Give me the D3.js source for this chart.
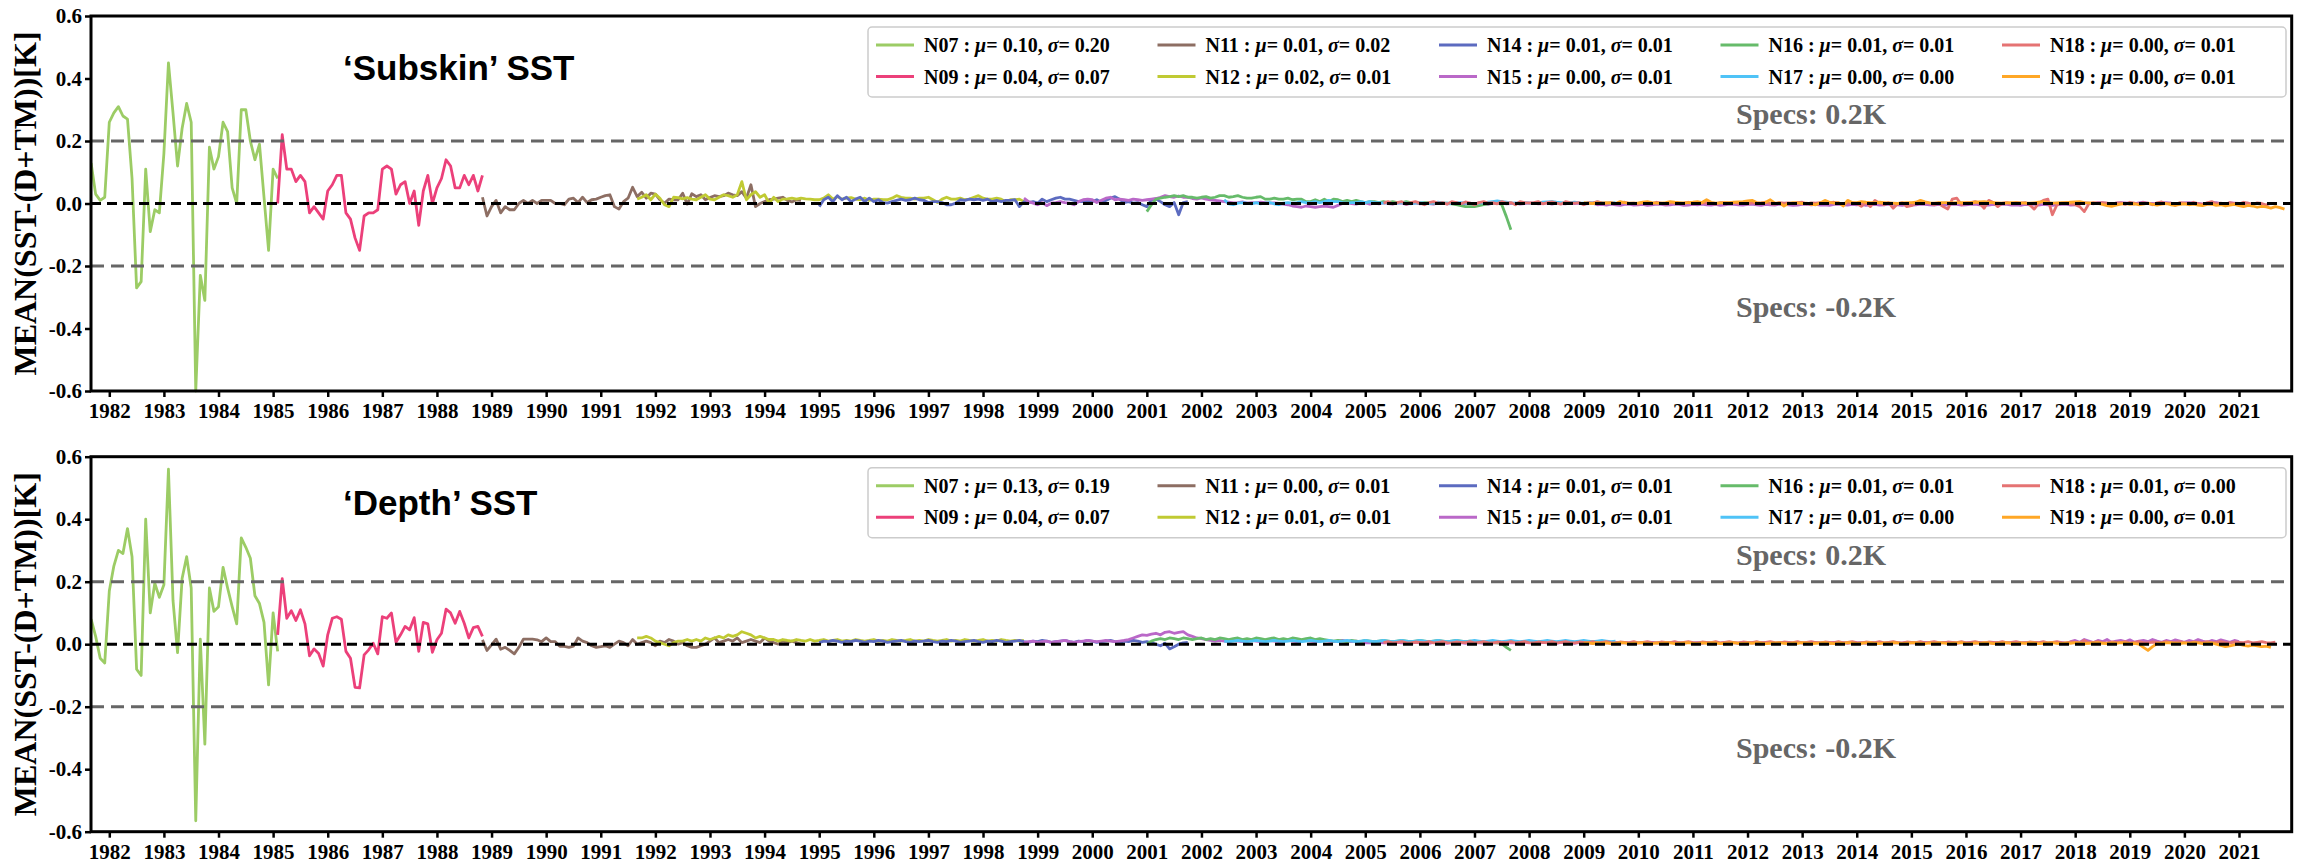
<!DOCTYPE html>
<html>
<head>
<meta charset="utf-8">
<script src="https://cdn.jsdelivr.net/npm/d3@7"></script>
<style>
  body { margin: 0; background: #fff; }
  svg { display: block; }
</style>
</head>
<body>
<div id="chart"></div>
<script>
// ---- data ----
const satNames = ["N07", "N09", "N11", "N12", "N14", "N15", "N16", "N17", "N18", "N19"];
const satColors = ["#9ccc65", "#ec407a", "#8d6e63", "#c0ca33", "#5c6bc0", "#ba68c8", "#66bb6a", "#4fc3f7", "#e57373", "#ffa726"];
const yearTicks = d3.range(1982, 2022);
const valueTicks = [-0.6, -0.4, -0.2, 0, 0.2, 0.4, 0.6];
const specLevels = [0.2, -0.2];

// first month of every record [year, month], same for both panels
const satStart = [[1981, 9], [1985, 2], [1988, 11], [1991, 9], [1995, 1], [1998, 10], [2001, 1], [2002, 6], [2005, 5], [2009, 1]];

const subskinMu = [0.10, 0.04, 0.01, 0.02, 0.01, 0.00, 0.01, 0.00, 0.00, 0.00];
const subskinSigma = [0.20, 0.07, 0.02, 0.01, 0.01, 0.01, 0.01, 0.00, 0.01, 0.01];
const depthMu = [0.13, 0.04, 0.00, 0.01, 0.01, 0.01, 0.01, 0.01, 0.01, 0.00];
const depthSigma = [0.19, 0.07, 0.01, 0.01, 0.01, 0.01, 0.01, 0.00, 0.00, 0.01];

// monthly mean SST-(D+TM) [K], 'Subskin' panel
const subskinN07 = [0.13, 0.03, 0.01, 0.02, 0.26, 0.29, 0.31, 0.28, 0.27, 0.08, -0.27, -0.25, 0.11, -0.09, -0.02, -0.03, 0.16, 0.45, 0.29, 0.12, 0.24, 0.32, 0.26, -0.60, -0.23, -0.31, 0.18, 0.11, 0.15, 0.26, 0.23, 0.05, 0.00, 0.30, 0.30, 0.20, 0.14, 0.19, 0.02, -0.15, 0.11, 0.08];
const subskinN09 = [0.00, 0.22, 0.11, 0.11, 0.07, 0.09, 0.07, -0.03, -0.01, -0.03, -0.05, 0.04, 0.06, 0.09, 0.09, -0.03, -0.05, -0.11, -0.15, -0.04, -0.03, -0.03, -0.02, 0.11, 0.12, 0.11, 0.03, 0.06, 0.07, 0.00, 0.04, -0.07, 0.04, 0.09, 0.00, 0.05, 0.08, 0.14, 0.12, 0.05, 0.05, 0.09, 0.06, 0.09, 0.04, 0.09];
const subskinN11 = [0.02, -0.04, -0.01, 0.01, -0.03, -0.01, -0.02, -0.02, 0.00, 0.01, 0.00, 0.01, 0.00, 0.01, 0.01, 0.01, 0.00, 0.00, -0.004, 0.014, 0.017, 0.003, 0.02, 0.003, 0.012, 0.014, 0.02, 0.025, 0.028, -0.01, -0.018, 0.006, 0.017, 0.052, 0.022, 0.036, 0.017, 0.033, 0.03, 0.012, 0.001, 0.014, 0.012, 0.012, 0.033, -0.002, 0.031, 0.022, 0.028, 0.012, 0.019, 0.025, 0.022, 0.025, 0.033, 0.028, 0.025, 0.038, 0.017, 0.06, -0.01, 0.0, 0.006, 0.012, 0.014, 0.017, 0.02, 0.01, 0.005, 0.012, 0.01];
const subskinN12 = [0.014, 0.02, 0.028, 0.012, 0.03, 0.017, -0.004, -0.01, 0.02, 0.019, 0.015, 0.019, 0.014, 0.012, 0.02, 0.028, 0.014, 0.012, 0.02, 0.028, 0.025, 0.02, 0.028, 0.07, 0.012, 0.028, 0.038, 0.02, 0.028, 0.001, 0.02, 0.006, 0.014, 0.015, 0.017, 0.014, 0.017, 0.015, 0.014, 0.012, 0.012, 0.017, 0.028, 0.014, 0.022, 0.014, 0.017, 0.019, 0.014, 0.012, 0.017, 0.01, 0.014, 0.014, 0.012, 0.012, 0.017, 0.025, 0.02, 0.017, 0.017, 0.014, 0.017, 0.017, 0.02, 0.012, 0.003, 0.014, 0.02, 0.014, 0.014, 0.017, 0.012, 0.014, 0.02, 0.025, 0.017, 0.014, 0.014, 0.017, 0.014, 0.006, 0.012, 0.012, 0.014, 0.006];
const subskinN14 = [-0.01, 0.012, 0.02, 0.006, 0.025, 0.012, 0.02, 0.006, 0.014, 0.02, 0.006, 0.017, 0.006, 0.012, 0.003, 0.001, 0.006, 0.01, 0.014, 0.01, 0.012, 0.017, 0.012, 0.01, 0.003, 0.006, 0.006, 0.003, -0.004, -0.004, 0.001, 0.012, 0.01, 0.014, 0.012, 0.014, 0.01, 0.014, 0.006, 0.01, 0.006, 0.01, 0.01, 0.012, -0.01, 0.006, 0.003, 0.006, 0.001, 0.014, 0.006, 0.012, 0.017, 0.02, 0.014, 0.014, 0.01, 0.006, 0.006, 0.01, 0.006, 0.012, 0.003, 0.01, 0.017, 0.022, 0.014, 0.003, 0.006, 0.001, 0.003, -0.004, -0.01, 0.012, 0.014, 0.006, -0.004, -0.01, 0.003, -0.036, 0.003, 0.006];
const subskinN15 = [0.017, 0.006, 0.001, -0.004, 0.003, -0.007, 0.001, 0.003, 0.006, 0.003, 0.001, -0.004, 0.006, 0.012, 0.014, 0.012, 0.003, 0.01, 0.017, 0.02, 0.012, 0.014, 0.012, 0.01, 0.014, 0.012, 0.01, 0.012, 0.014, 0.016, 0.02, 0.025, 0.022, 0.02, 0.024, 0.02, 0.02, 0.016, 0.014, 0.018, 0.014, 0.012, 0.01, 0.008, 0.006, 0.004, 0.002, 0.003, 0.005, 0.001, 0.003, 0.002, 0.004, 0.003, 0.001, 0.002, 0.0, -0.002, -0.004, -0.008, -0.01, -0.012, -0.008, -0.01, -0.012, -0.01, -0.008, -0.01, -0.012, -0.006, 0.0, 0.002, 0.0, -0.002, 0.001, 0.002, -0.002, 0.001, -0.001, 0.003, 0.0, -0.002, 0.002, 0.001, -0.003, 0.0, 0.002, -0.001, 0.001, 0.0, -0.002, 0.002, 0.001, -0.001, 0.0, 0.003, -0.002, 0.0, 0.001, -0.001, 0.002, 0.0, -0.003, 0.001, 0.0, 0.002, -0.001, 0.0, 0.001, -0.002, 0.0, 0.002, 0.001, -0.001, 0.0, 0.002, -0.002, 0.001, 0.0, -0.001, 0.002, 0.0, 0.001, -0.002, 0.0, 0.001, -0.004, -0.003, -0.005, -0.002, -0.004, -0.006, -0.003, -0.002, -0.005, -0.004, -0.003, -0.006, -0.004, -0.002, -0.003, -0.005, -0.004, -0.002, -0.003, -0.006, -0.005, -0.003, -0.004, -0.002, -0.004, -0.005, -0.003, -0.006, -0.004, -0.002, -0.003, -0.004, -0.005, -0.003, -0.002, -0.004, -0.006, -0.003, -0.004, -0.005, -0.002, -0.003, -0.004, -0.006, -0.005, -0.003, -0.002, -0.004, -0.003, -0.005, -0.004, -0.006, -0.003, -0.002, -0.004, -0.005, -0.003, -0.004, -0.002, -0.006, -0.004, -0.003, -0.005, -0.004, -0.002, -0.003, -0.004, -0.006, -0.003, -0.005, -0.004, -0.002, -0.003, -0.004, -0.005, -0.003, -0.006, -0.004, -0.002, -0.003, -0.005, -0.004, -0.003, -0.002, -0.004, -0.006, -0.005, -0.003, -0.004, -0.002, -0.003, -0.005, -0.004, -0.006, -0.003, -0.004, -0.002, -0.005, -0.003, -0.004, -0.006, -0.004, -0.003, -0.002, -0.005, -0.004, 0.0, 0.002, 0.001, -0.001, 0.003, 0.002, 0.0, -0.002, 0.001, 0.003, 0.002, 0.0, -0.001, 0.002, 0.004, 0.001, 0.0, -0.002, 0.002, 0.003, 0.001, -0.001, 0.0, 0.002, 0.003, 0.001, 0.0, -0.002, 0.001, 0.002, 0.003, 0.0, -0.001, 0.002, 0.001, 0.0, -0.003, 0.001];
const subskinN16 = [-0.026, -0.004, 0.014, 0.017, 0.02, 0.022, 0.025, 0.022, 0.025, 0.02, 0.02, 0.017, 0.02, 0.022, 0.017, 0.02, 0.025, 0.025, 0.02, 0.022, 0.025, 0.02, 0.017, 0.017, 0.02, 0.022, 0.014, 0.014, 0.017, 0.014, 0.014, 0.017, 0.012, 0.014, 0.014, 0.006, 0.006, 0.012, 0.006, 0.014, 0.006, 0.014, 0.012, 0.006, 0.01, 0.006, 0.01, 0.006, 0.003, 0.006, 0.006, 0.003, 0.006, 0.003, 0.006, 0.003, 0.003, 0.006, 0.003, 0.003, 0.001, 0.003, 0.003, 0.001, 0.003, 0.001, 0.001, -0.001, -0.004, -0.007, -0.01, -0.01, -0.01, -0.007, -0.004, -0.001, 0.001, 0.003, -0.004, -0.042, -0.084];
const subskinN17 = [0.012, -0.001, -0.004, 0.001, 0.003, 0.001, -0.001, 0.003, -0.001, 0.001, 0.003, -0.001, -0.004, 0.001, 0.003, 0.001, 0.003, 0.006, 0.003, 0.003, 0.006, 0.003, 0.006, 0.01, 0.006, 0.006, 0.003, 0.001, 0.003, 0.003, 0.006, 0.003, 0.006, 0.003, 0.003, 0.001, 0.003, 0.0, 0.001, 0.003, 0.001, -0.001, 0.001, 0.003, 0.001, 0.0, 0.002, 0.004, 0.002, 0.001, 0.0, 0.002, 0.003, 0.001, 0.0, -0.001, 0.001, 0.002, 0.004, 0.006, 0.008, 0.006, 0.004, 0.002, 0.001, 0.002, 0.003, 0.001, 0.0, 0.002, 0.004, 0.005, 0.006, 0.004, 0.003, 0.002, 0.003, 0.004, 0.002, 0.001, 0.003, 0.002, 0.004, 0.003, 0.001, 0.002, 0.003];
const subskinN18 = [0.001, 0.006, -0.001, 0.003, 0.006, -0.002, 0.003, 0.006, 0.001, -0.004, 0.003, 0.006, 0.001, 0.003, -0.002, 0.006, 0.003, -0.001, 0.005, 0.001, -0.004, 0.003, 0.006, 0.001, 0.003, -0.001, 0.006, 0.001, 0.003, -0.004, 0.006, 0.003, 0.001, 0.003, 0.006, -0.001, 0.003, 0.005, 0.001, -0.002, 0.006, 0.003, 0.001, 0.003, -0.004, 0.003, 0.001, 0.006, 0.002, 0.0, 0.003, -0.001, 0.002, 0.004, 0.0, 0.001, -0.002, 0.003, 0.002, 0.0, 0.004, 0.001, -0.002, 0.002, 0.003, 0.0, 0.001, 0.004, -0.001, 0.002, 0.001, 0.003, 0.0, -0.002, 0.003, 0.002, 0.001, 0.004, 0.0, 0.002, -0.001, 0.003, 0.001, 0.002, 0.004, 0.0, -0.002, 0.003, 0.001, 0.002, 0.0, 0.003, 0.004, -0.001, 0.002, 0.001, 0.003, 0.0, 0.002, 0.004, 0.001, -0.002, 0.003, 0.002, 0.0, -0.009, 0.003, -0.01, 0.01, 0.001, -0.004, 0.003, -0.015, -0.001, 0.003, -0.01, -0.007, 0.001, 0.006, 0.003, 0.001, -0.004, 0.001, -0.01, -0.018, 0.014, 0.017, -0.004, 0.001, 0.003, 0.006, 0.001, -0.015, 0.01, 0.003, -0.01, 0.001, 0.003, -0.001, 0.003, 0.001, 0.003, -0.004, -0.018, 0.001, 0.01, 0.014, -0.036, -0.004, 0.001, 0.003, -0.001, -0.004, -0.01, -0.026, -0.001, 0.003, 0.001, 0.003, 0.001, -0.001, 0.001, 0.002, -0.003, 0.004, 0.001, -0.002, 0.003, 0.0, -0.004, 0.002, 0.005, -0.001, 0.001, -0.006, 0.003, 0.001, -0.002, 0.004, 0.0, -0.003, 0.002, 0.006, -0.001, 0.001, -0.004, 0.003, 0.0, -0.002, 0.004, 0.001, -0.003, 0.002, 0.0, -0.005, 0.001];
const subskinN19 = [0.003, 0.001, 0.0, 0.002, 0.001, 0.003, 0.002, 0.0, 0.006, 0.003, 0.001, 0.001, 0.002, 0.004, 0.006, 0.003, 0.001, 0.001, 0.003, 0.006, 0.004, 0.003, 0.002, 0.003, 0.004, 0.006, 0.003, 0.012, 0.004, 0.001, 0.002, 0.003, 0.003, 0.004, 0.005, 0.006, 0.008, 0.01, 0.003, 0.001, 0.004, 0.012, 0.001, 0.002, -0.008, 0.0, 0.003, 0.002, 0.0, 0.001, -0.003, -0.004, 0.002, 0.01, 0.004, 0.001, 0.003, -0.008, 0.01, 0.003, 0.003, 0.006, 0.004, 0.003, 0.003, 0.004, 0.003, 0.002, 0.001, 0.0, 0.002, 0.003, 0.003, 0.004, 0.01, 0.005, 0.002, 0.001, 0.003, 0.003, 0.003, 0.002, 0.003, 0.003, 0.003, 0.003, 0.004, 0.005, 0.006, 0.004, 0.003, 0.002, 0.001, 0.002, 0.003, 0.003, 0.002, 0.001, 0.001, 0.002, 0.004, 0.006, 0.003, 0.001, 0.002, 0.003, 0.003, 0.004, 0.005, 0.006, 0.003, 0.002, 0.001, 0.0, -0.003, -0.007, -0.009, -0.005, -0.002, 0.0, -0.003, -0.001, -0.004, -0.002, 0.001, -0.003, -0.005, -0.002, 0.0, -0.004, -0.006, -0.003, -0.001, -0.004, -0.002, -0.005, -0.007, -0.003, -0.002, -0.006, -0.004, -0.008, -0.005, -0.003, -0.007, -0.01, -0.006, -0.008, -0.012, -0.009, -0.011, -0.015, -0.01, -0.013, -0.018];

// monthly mean SST-(D+TM) [K], 'Depth' panel
const depthN07 = [0.08, 0.025, -0.045, -0.06, 0.17, 0.25, 0.30, 0.29, 0.37, 0.28, -0.08, -0.10, 0.40, 0.10, 0.195, 0.15, 0.19, 0.56, 0.14, -0.027, 0.21, 0.28, 0.18, -0.565, 0.016, -0.32, 0.18, 0.105, 0.12, 0.246, 0.18, 0.12, 0.065, 0.34, 0.31, 0.275, 0.155, 0.13, 0.07, -0.13, 0.10, -0.023];
const depthN09 = [0.03, 0.21, 0.083, 0.107, 0.076, 0.11, 0.065, -0.037, -0.015, -0.03, -0.07, 0.03, 0.083, 0.088, 0.08, -0.023, -0.045, -0.138, -0.14, -0.034, -0.018, 0.003, -0.031, 0.088, 0.083, 0.10, 0.006, 0.03, 0.057, 0.046, 0.085, -0.023, 0.07, 0.065, -0.026, 0.014, 0.035, 0.112, 0.10, 0.067, 0.105, 0.067, 0.02, 0.053, 0.057, 0.025];
const depthN11 = [0.014, -0.02, -0.002, 0.016, -0.016, -0.01, -0.02, -0.031, -0.01, 0.016, 0.016, 0.016, 0.014, 0.008, 0.02, 0.008, 0.008, -0.007, -0.007, -0.01, -0.006, 0.02, 0.01, 0.005, -0.005, -0.01, -0.008, -0.005, -0.01, 0.0, 0.01, 0.005, -0.005, 0.015, 0.0, 0.005, 0.01, 0.005, -0.005, 0.01, 0.005, 0.015, 0.01, 0.0, 0.005, -0.005, -0.01, -0.01, -0.005, 0.0, 0.01, 0.02, 0.005, 0.01, 0.015, 0.01, 0.02, 0.005, 0.01, 0.015, 0.01, 0.005, 0.02, 0.01, 0.005, 0.0, 0.01, 0.005, 0.01, 0.005, 0.0];
const depthN12 = [0.02, 0.02, 0.025, 0.02, 0.01, 0.005, 0.0, -0.005, 0.005, 0.01, 0.01, 0.015, 0.01, 0.015, 0.01, 0.02, 0.015, 0.02, 0.025, 0.02, 0.03, 0.025, 0.03, 0.04, 0.035, 0.03, 0.02, 0.025, 0.02, 0.015, 0.015, 0.01, 0.015, 0.012, 0.01, 0.015, 0.012, 0.01, 0.015, 0.01, 0.012, 0.015, 0.01, 0.012, 0.015, 0.01, 0.012, 0.01, 0.015, 0.012, 0.01, 0.012, 0.015, 0.01, 0.012, 0.01, 0.015, 0.012, 0.01, 0.012, 0.015, 0.01, 0.012, 0.01, 0.015, 0.012, 0.01, 0.012, 0.015, 0.01, 0.012, 0.01, 0.015, 0.012, 0.01, 0.012, 0.015, 0.01, 0.012, 0.01, 0.015, 0.012, 0.01, 0.012, 0.01, 0.012];
const depthN14 = [0.005, 0.01, 0.008, 0.012, 0.01, 0.006, 0.01, 0.008, 0.012, 0.01, 0.006, 0.01, 0.008, 0.012, 0.01, 0.006, 0.008, 0.01, 0.012, 0.008, 0.006, 0.01, 0.008, 0.01, 0.012, 0.008, 0.006, 0.01, 0.008, 0.012, 0.01, 0.006, 0.008, 0.01, 0.012, 0.008, 0.006, 0.01, 0.008, 0.012, 0.01, 0.006, 0.008, 0.01, 0.012, 0.008, 0.006, 0.01, 0.008, 0.012, 0.01, 0.006, 0.008, 0.01, 0.012, 0.008, 0.006, 0.01, 0.008, 0.012, 0.01, 0.006, 0.008, 0.01, 0.012, 0.008, 0.006, 0.01, 0.008, 0.012, 0.01, 0.006, 0.008, 0.005, 0.0, -0.005, 0.003, -0.015, -0.008, 0.0, 0.004, 0.006];
const depthN15 = [0.005, 0.008, 0.01, 0.006, 0.008, 0.01, 0.006, 0.008, 0.01, 0.012, 0.008, 0.006, 0.008, 0.01, 0.012, 0.01, 0.008, 0.01, 0.012, 0.01, 0.008, 0.01, 0.012, 0.015, 0.02, 0.025, 0.03, 0.028, 0.032, 0.035, 0.03, 0.038, 0.04, 0.035, 0.038, 0.04, 0.03, 0.025, 0.02, 0.018, 0.015, 0.012, 0.01, 0.012, 0.01, 0.008, 0.012, 0.01, 0.008, 0.01, 0.012, 0.01, 0.008, 0.01, 0.012, 0.01, 0.008, 0.01, 0.012, 0.01, 0.008, 0.01, 0.012, 0.01, 0.008, 0.01, 0.012, 0.01, 0.008, 0.01, 0.012, 0.01, 0.008, 0.01, 0.006, 0.004, 0.005, 0.003, 0.006, 0.004, 0.005, 0.003, 0.006, 0.004, 0.005, 0.003, 0.006, 0.004, 0.005, 0.003, 0.006, 0.004, 0.005, 0.003, 0.006, 0.004, 0.005, 0.003, 0.006, 0.004, 0.005, 0.003, 0.006, 0.004, 0.005, 0.003, 0.006, 0.004, 0.005, 0.003, 0.006, 0.004, 0.005, 0.003, 0.006, 0.004, 0.005, 0.003, 0.006, 0.004, 0.005, 0.003, 0.006, 0.004, 0.005, 0.003, 0.006, 0.004, 0.005, 0.003, 0.006, 0.004, 0.005, 0.003, 0.006, 0.004, 0.005, 0.003, 0.006, 0.004, 0.005, 0.003, 0.006, 0.004, 0.005, 0.003, 0.006, 0.004, 0.005, 0.003, 0.006, 0.004, 0.005, 0.003, 0.006, 0.004, 0.005, 0.003, 0.006, 0.004, 0.005, 0.003, 0.006, 0.004, 0.005, 0.003, 0.006, 0.004, 0.005, 0.003, 0.006, 0.004, 0.005, 0.003, 0.006, 0.004, 0.005, 0.003, 0.006, 0.004, 0.005, 0.003, 0.006, 0.004, 0.005, 0.003, 0.006, 0.004, 0.005, 0.003, 0.006, 0.004, 0.005, 0.003, 0.006, 0.004, 0.005, 0.003, 0.006, 0.004, 0.005, 0.003, 0.006, 0.004, 0.005, 0.003, 0.006, 0.004, 0.005, 0.003, 0.006, 0.004, 0.005, 0.003, 0.006, 0.004, 0.005, 0.003, 0.006, 0.004, 0.005, 0.003, 0.006, 0.004, 0.005, 0.003, 0.006, 0.004, 0.005, 0.003, 0.008, 0.012, 0.006, 0.015, 0.01, 0.005, 0.012, 0.008, 0.015, 0.006, 0.01, 0.012, 0.008, 0.014, 0.006, 0.01, 0.012, 0.008, 0.015, 0.01, 0.006, 0.012, 0.008, 0.014, 0.01, 0.006, 0.012, 0.008, 0.015, 0.01, 0.006, 0.012, 0.008, 0.014, 0.01, 0.006, 0.012, 0.008];
const depthN16 = [0.0, 0.01, 0.015, 0.018, 0.015, 0.02, 0.018, 0.015, 0.02, 0.018, 0.015, 0.018, 0.02, 0.015, 0.018, 0.015, 0.02, 0.018, 0.015, 0.018, 0.02, 0.015, 0.018, 0.015, 0.02, 0.018, 0.015, 0.018, 0.02, 0.015, 0.018, 0.015, 0.02, 0.018, 0.015, 0.018, 0.02, 0.015, 0.018, 0.015, 0.012, 0.01, 0.012, 0.01, 0.008, 0.012, 0.01, 0.008, 0.012, 0.01, 0.008, 0.01, 0.012, 0.01, 0.008, 0.01, 0.012, 0.01, 0.008, 0.01, 0.012, 0.01, 0.008, 0.01, 0.012, 0.01, 0.008, 0.01, 0.012, 0.01, 0.008, 0.01, 0.008, 0.006, 0.008, 0.006, 0.005, 0.004, 0.002, -0.01, -0.02];
const depthN17 = [0.01, 0.008, 0.01, 0.012, 0.01, 0.008, 0.01, 0.012, 0.01, 0.008, 0.01, 0.012, 0.01, 0.008, 0.01, 0.012, 0.01, 0.008, 0.01, 0.012, 0.01, 0.008, 0.01, 0.012, 0.01, 0.008, 0.01, 0.012, 0.01, 0.008, 0.01, 0.012, 0.01, 0.008, 0.01, 0.012, 0.01, 0.008, 0.01, 0.012, 0.01, 0.008, 0.01, 0.012, 0.01, 0.008, 0.01, 0.012, 0.01, 0.008, 0.01, 0.012, 0.01, 0.008, 0.01, 0.012, 0.01, 0.008, 0.01, 0.012, 0.01, 0.008, 0.01, 0.012, 0.01, 0.008, 0.01, 0.012, 0.01, 0.008, 0.01, 0.012, 0.01, 0.008, 0.01, 0.012, 0.01, 0.008, 0.01, 0.012, 0.01, 0.008, 0.01, 0.012, 0.01, 0.008, 0.01];
const depthN18 = [0.005, 0.008, 0.004, 0.006, 0.008, 0.005, 0.004, 0.007, 0.006, 0.005, 0.008, 0.004, 0.006, 0.008, 0.005, 0.004, 0.007, 0.006, 0.005, 0.008, 0.004, 0.006, 0.008, 0.005, 0.004, 0.007, 0.006, 0.005, 0.008, 0.004, 0.006, 0.008, 0.005, 0.004, 0.007, 0.006, 0.005, 0.008, 0.004, 0.006, 0.008, 0.005, 0.004, 0.007, 0.006, 0.005, 0.008, 0.004, 0.006, 0.008, 0.005, 0.004, 0.007, 0.006, 0.005, 0.008, 0.004, 0.006, 0.008, 0.005, 0.004, 0.007, 0.006, 0.005, 0.008, 0.004, 0.006, 0.008, 0.005, 0.004, 0.007, 0.006, 0.005, 0.008, 0.004, 0.006, 0.008, 0.005, 0.004, 0.007, 0.006, 0.005, 0.008, 0.004, 0.006, 0.008, 0.005, 0.004, 0.007, 0.006, 0.005, 0.008, 0.004, 0.006, 0.008, 0.005, 0.004, 0.007, 0.006, 0.005, 0.008, 0.004, 0.006, 0.008, 0.005, 0.004, 0.007, 0.006, 0.005, 0.008, 0.004, 0.006, 0.008, 0.005, 0.004, 0.007, 0.006, 0.005, 0.008, 0.004, 0.006, 0.008, 0.005, 0.004, 0.007, 0.006, 0.005, 0.008, 0.004, 0.006, 0.008, 0.005, 0.004, 0.007, 0.006, 0.005, 0.008, 0.004, 0.006, 0.008, 0.005, 0.004, 0.007, 0.006, 0.005, 0.008, 0.004, 0.006, 0.008, 0.005, 0.004, 0.007, 0.006, 0.005, 0.012, 0.004, 0.006, 0.008, 0.005, 0.004, 0.007, 0.006, 0.005, 0.008, 0.004, 0.006, 0.008, 0.005, 0.004, 0.007, 0.006, 0.005, 0.008, 0.004, 0.006, 0.008, 0.005, 0.004, 0.007, 0.006, 0.005, 0.008, 0.004, 0.006, 0.008, 0.005, 0.004, 0.007, 0.006, 0.005, 0.008, 0.004, 0.006, 0.008, 0.005, 0.004, 0.007];
const depthN19 = [0.003, 0.004, 0.002, 0.005, 0.003, 0.004, 0.002, 0.003, 0.005, 0.004, 0.002, 0.003, 0.004, 0.005, 0.003, 0.002, 0.004, 0.003, 0.005, 0.004, 0.002, 0.003, 0.004, 0.005, 0.003, 0.002, 0.004, 0.003, 0.005, 0.004, 0.002, 0.003, 0.004, 0.005, 0.003, 0.002, 0.004, 0.003, 0.005, 0.004, 0.002, 0.003, 0.004, 0.005, 0.003, 0.002, 0.004, 0.003, 0.005, 0.004, 0.002, 0.003, 0.004, 0.005, 0.003, 0.002, 0.004, 0.003, 0.005, 0.004, 0.002, 0.003, 0.004, 0.005, 0.003, 0.002, 0.004, 0.003, 0.005, 0.004, 0.002, 0.003, 0.004, 0.005, 0.003, 0.002, 0.004, 0.003, 0.005, 0.004, 0.002, 0.003, 0.004, 0.005, 0.003, 0.002, 0.004, 0.003, 0.005, 0.004, 0.002, 0.003, 0.004, 0.005, 0.003, 0.002, 0.004, 0.003, 0.005, 0.004, 0.002, 0.003, 0.004, 0.005, 0.003, 0.002, 0.004, 0.003, 0.005, 0.004, 0.002, 0.003, 0.004, 0.005, 0.003, 0.002, 0.004, 0.003, 0.005, 0.004, 0.002, 0.003, 0.0, -0.01, -0.02, -0.008, 0.002, 0.003, 0.004, 0.005, 0.003, 0.002, 0.004, 0.003, 0.005, 0.004, 0.002, 0.003, 0.004, 0.0, -0.004, -0.008, -0.005, -0.002, 0.0, -0.004, -0.006, -0.003, -0.005, -0.008, -0.006, -0.01];

const panels = [
  { title: "\u2018Subskin\u2019 SST", mu: subskinMu, sigma: subskinSigma,
    series: [subskinN07, subskinN09, subskinN11, subskinN12, subskinN14, subskinN15, subskinN16, subskinN17, subskinN18, subskinN19] },
  { title: "\u2018Depth\u2019 SST", mu: depthMu, sigma: depthSigma,
    series: [depthN07, depthN09, depthN11, depthN12, depthN14, depthN15, depthN16, depthN17, depthN18, depthN19] }
];

// ---- layout ----
const width = 2300, height = 863;
const left = 91, right = 2291.7;
const panelTops = [16, 456.7], panelH = 375;
const serif = "'Liberation Serif', 'Times New Roman', serif";
const sans = "'Liberation Sans', Arial, sans-serif";

const svg = d3.select("#chart").append("svg").attr("width", width).attr("height", height);
svg.append("rect").attr("width", width).attr("height", height).attr("fill", "#fff");

const x = d3.scaleLinear().domain([1981.665, 2021.965]).range([left, right]);

panels.forEach((p, pi) => {
  const top = panelTops[pi], bottom = top + panelH;
  const y = d3.scaleLinear().domain([-0.6, 0.6]).range([bottom, top]);
  const g = svg.append("g");

  const clipId = "clip" + pi;
  g.append("clipPath").attr("id", clipId).append("rect")
    .attr("x", left).attr("y", top - 2).attr("width", right - left).attr("height", panelH + 4);

  const line = d3.line().x(d => x(d.t)).y(d => y(d.v));
  const lines = g.append("g").attr("clip-path", `url(#${clipId})`);
  p.series.forEach((vals, si) => {
    const st = satStart[si];
    const pts = vals.map((v, i) => ({ t: st[0] + (st[1] - 1 + i) / 12, v: v }));
    lines.append("path").datum(pts)
      .attr("d", line)
      .attr("fill", "none")
      .attr("stroke", satColors[si])
      .attr("stroke-width", 2.8)
      .attr("stroke-linejoin", "round");
  });

  // spec lines and zero line
  specLevels.forEach(s => {
    g.append("line").attr("x1", left).attr("x2", right).attr("y1", y(s)).attr("y2", y(s))
      .attr("stroke", "#666").attr("stroke-width", 3).attr("stroke-dasharray", "13,7");
  });
  g.append("line").attr("x1", left).attr("x2", right).attr("y1", y(0)).attr("y2", y(0))
    .attr("stroke", "#000").attr("stroke-width", 3).attr("stroke-dasharray", "10,6");

  // axes
  const xAxis = g.append("g").attr("transform", `translate(0,${bottom})`)
    .call(d3.axisBottom(x).tickValues(yearTicks).tickFormat(d3.format("d")).tickSize(6).tickSizeOuter(0));
  const yAxis = g.append("g").attr("transform", `translate(${left},0)`)
    .call(d3.axisLeft(y).tickValues(valueTicks).tickFormat(d3.format(".1f")).tickSize(6).tickSizeOuter(0));
  [xAxis, yAxis].forEach(a => {
    a.select(".domain").remove();
    a.selectAll(".tick line").attr("stroke", "#000").attr("stroke-width", 2.5);
    a.selectAll(".tick text").attr("font-family", serif).attr("font-weight", "bold")
      .attr("font-size", 21).attr("fill", "#000");
  });
  xAxis.selectAll(".tick text").attr("y", 12).attr("dy", "0.71em");
  yAxis.selectAll(".tick text").attr("x", -9).text(d => d3.format(".1f")(d).replace("\u2212", "-"));

  g.append("rect").attr("x", left).attr("y", top).attr("width", right - left).attr("height", panelH)
    .attr("fill", "none").attr("stroke", "#000").attr("stroke-width", 3);

  // y label
  g.append("text")
    .attr("transform", `translate(36,${(top + bottom) / 2}) rotate(-90)`)
    .attr("text-anchor", "middle")
    .attr("font-family", serif).attr("font-weight", "bold").attr("font-size", 32)
    .text("MEAN(SST-(D+TM))[K]");

  // title
  g.append("text").attr("x", 343).attr("y", pi === 0 ? 80 : 515)
    .attr("font-family", sans).attr("font-weight", "bold").attr("font-size", 35)
    .text(p.title);

  // spec labels
  g.append("text").attr("x", 1736).attr("y", top + 108)
    .attr("font-family", serif).attr("font-weight", "bold").attr("font-size", 30).attr("fill", "#666")
    .text("Specs: 0.2K");
  g.append("text").attr("x", 1736).attr("y", top + 301)
    .attr("font-family", serif).attr("font-weight", "bold").attr("font-size", 30).attr("fill", "#666")
    .text("Specs: -0.2K");

  // legend
  const lg = g.append("g");
  lg.append("rect").attr("x", 868).attr("y", top + 11).attr("width", 2286 - 868).attr("height", 70)
    .attr("rx", 4).attr("fill", "#fff").attr("fill-opacity", 0.8)
    .attr("stroke", "#ccc").attr("stroke-width", 1.5);
  satNames.forEach((name, si) => {
    const col = Math.floor(si / 2), row = si % 2;
    const lx = 876 + col * 281.5, ly = top + 29 + row * 31.5;
    lg.append("line").attr("x1", lx).attr("x2", lx + 38).attr("y1", ly).attr("y2", ly)
      .attr("stroke", satColors[si]).attr("stroke-width", 3);
    const t = lg.append("text").attr("x", lx + 48).attr("y", ly).attr("dy", "0.35em")
      .attr("font-family", serif).attr("font-weight", "bold").attr("font-size", 20);
    t.append("tspan").text(name + " : ");
    t.append("tspan").attr("font-style", "italic").text("\u03bc");
    t.append("tspan").text("= " + p.mu[si].toFixed(2) + ", ");
    t.append("tspan").attr("font-style", "italic").text("\u03c3");
    t.append("tspan").text("= " + p.sigma[si].toFixed(2));
  });
});
</script>
</body>
</html>
